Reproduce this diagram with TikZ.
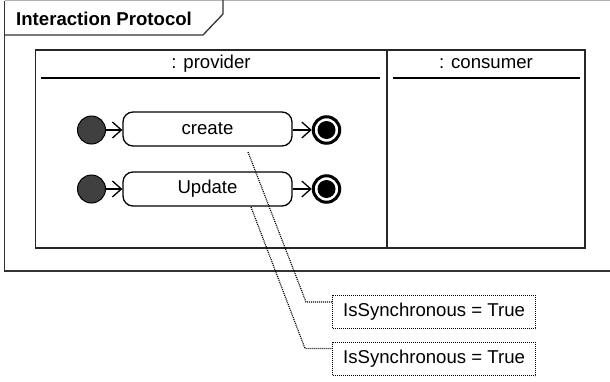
\documentclass[tikz,border=0pt]{standalone}
\usepackage{fontspec}
\setmainfont{Liberation Sans}
\usetikzlibrary{arrows.meta}
\begin{document}
\begin{tikzpicture}[x=1pt,y=-1pt,
  font=\fontsize{18.6}{22}\selectfont,
  frameline/.style={draw=black!80, line width=1.3pt},
  boxline/.style={draw=black!85, line width=1.5pt},
  headline/.style={draw=black, line width=2.2pt},
  statebox/.style={draw=black, line width=1.3pt, rounded corners=10pt, minimum width=169pt, minimum height=34pt, inner sep=0pt},
  initst/.style={circle, draw=black, fill=black!75, line width=1pt, minimum size=28pt, inner sep=0pt},
  finalst/.style={circle, draw=black, fill=white, line width=3pt, minimum size=26.5pt, inner sep=0pt,
    path picture={\fill[black] (path picture bounding box.center) circle (9pt);}},
  arr/.style={draw=black, line width=1.3pt, -{Straight Barb[length=9pt,width=16pt,line width=1.3pt]}},
  conn/.style={draw=black, line width=1.2pt, dash pattern=on 1pt off 1pt},
  notebox/.style={draw=black, line width=1.2pt, dash pattern=on 1pt off 1pt, minimum width=203pt, inner xsep=10pt, inner ysep=0pt, minimum height=33pt},
  lbl/.style={inner sep=0pt}
]
\useasboundingbox (0,0) rectangle (610,381);
\fill[white] (0,0) rectangle (610,381);
% outer frame
\draw[draw=black!30, line width=1pt] (4.5,0.5) -- (612,0.5);
\draw[frameline] (4.5,0.5) -- (4.5,271) -- (615,271);
\draw[frameline] (4.5,35) -- (203,35) -- (223,14) -- (223,0);
\node[lbl, anchor=west, font=\fontsize{18.6}{22}\selectfont\bfseries] (title) at (16,19) {Interaction Protocol};
% inner box
\draw[boxline] (35.5,50) rectangle (585,248);
\draw[boxline, line width=1.8pt] (387,50) -- (387,248);
\draw[headline] (41,78) -- (380,78);
\draw[headline] (393,78) -- (580,78);
\node[lbl] (prov) at (211,64) {: provider};
\node[lbl] (cons) at (486,64) {: consumer};
% states
\node[statebox] (create) at (207.5,129) {create};
\node[statebox] (update) at (207.5,189) {Update};
\node[initst] (i1) at (91.5,130) {};
\node[initst] (i2) at (91.5,189) {};
\node[finalst] (f1) at (326.5,130) {};
\node[finalst] (f2) at (326.5,189) {};
\draw[arr] (i1) -- (create.west |- i1);
\draw[arr] (i2) -- (update.west |- i2);
\draw[arr] (create.east |- f1) -- (f1);
\draw[arr] (update.east |- f2) -- (f2);
% notes
\node[notebox, anchor=north west] (n1) at (332,295) {IsSynchronous = True};
\node[notebox, anchor=north west] (n2) at (332,342) {IsSynchronous = True};
\coordinate (s1) at (248,152);
\coordinate (k1) at (306,302);
\coordinate (s2) at (251,207);
\coordinate (k2) at (305,348.5);
\draw[conn] (s1) -- (k1) -- (k1 -| n1.west);
\draw[conn] (s2) -- (k2) -- (k2 -| n2.west);
\end{tikzpicture}
\end{document}
